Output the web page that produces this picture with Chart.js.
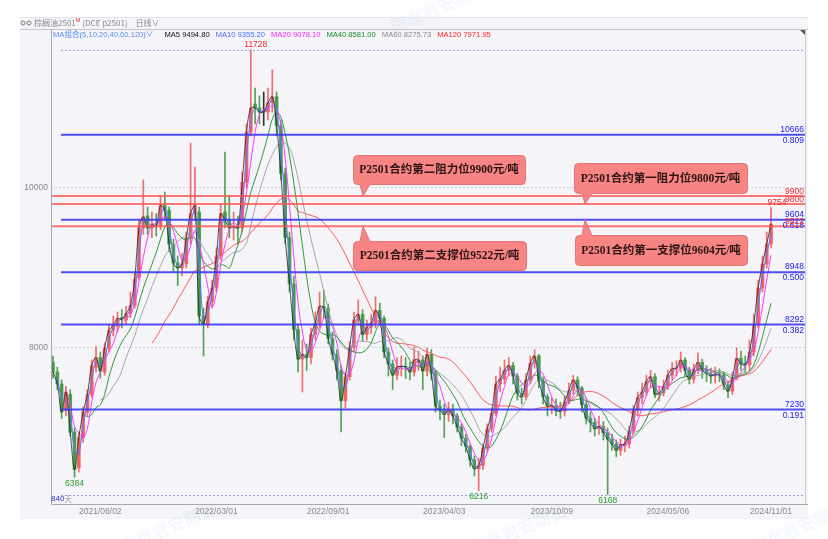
<!DOCTYPE html>
<html>
<head>
<meta charset="utf-8">
<script src="https://cdn.jsdelivr.net/npm/chart.js@4.4.1/dist/chart.umd.min.js"></script>
<style>
  html, body { margin: 0; padding: 0; background: #fff; }
  #wrap { width: 828px; height: 539px; }
</style>
</head>
<body>
<div id="wrap"><canvas id="kline" width="828" height="539"></canvas></div>
<script>
// weekly candles of p2501 (840 trading days shown)
const opens = [
  7820,7700,7550,7220,7420,6950,6500,6880,7200,7420,
  7760,7880,7700,8000,8220,8270,8380,8350,8430,8530,
  8880,9500,9650,9500,9540,9530,9780,9720,9300,9060,
  9000,9050,9380,9680,9700,8400,8300,8580,8750,9150,
  9700,9600,9500,9520,9500,10070,10700,11050,11000,10950,
  10950,11070,11140,10780,10180,9380,8800,8230,7860,7920,
  7880,8170,8310,8520,8500,8120,7920,7720,7340,7640,
  8010,8350,8420,8170,8260,8310,8470,8370,7950,7800,
  7660,7760,7770,7760,7700,7820,7850,7710,7920,7680,
  7270,7220,7170,7230,7150,7010,6870,6770,6600,6490,
  6530,6750,6990,7180,7550,7610,7720,7780,7650,7430,
  7390,7600,7810,7900,7590,7390,7270,7280,7220,7210,
  7330,7470,7600,7500,7290,7120,7070,6990,7020,6940,
  6860,6800,6720,6790,6800,6960,7220,7380,7450,7580,
  7640,7420,7440,7520,7660,7740,7750,7850,7720,7610,
  7720,7820,7720,7680,7650,7670,7660,7540,7460,7620,
  7870,7800,7790,7950,8300,8750,9050,9300
];
const highs = [
  7900,7760,7600,7520,7480,7000,6950,7260,7480,7850,
  8020,7950,8060,8300,8400,8450,8480,8520,8700,8950,
  9600,10100,9760,9700,9680,9900,9950,9760,9360,9150,
  9180,9450,10560,10260,9760,8500,8650,8850,9250,9800,
  10450,9900,9700,9650,10200,10800,11728,11250,11150,11200,
  11250,11475,11200,10850,10250,9450,8900,8300,8100,8050,
  8250,8450,8700,8720,8550,8200,7980,7780,7700,8080,
  8450,8600,8480,8350,8420,8640,8560,8400,8000,7850,
  7880,7900,7880,7820,8010,7960,7900,8000,7980,7720,
  7350,7300,7320,7300,7180,7050,6920,6800,6650,6620,
  6800,7050,7250,7650,7760,7850,7880,7820,7680,7500,
  7680,7900,7980,7920,7640,7420,7380,7360,7320,7400,
  7560,7660,7640,7520,7330,7200,7120,7150,7080,7000,
  6920,6850,6860,6900,7020,7280,7450,7560,7660,7720,
  7680,7520,7600,7720,7820,7840,7950,7880,7760,7800,
  7940,7860,7780,7750,7760,7740,7700,7580,7700,8000,
  7960,7900,8100,8420,8850,9150,9450,9754
];
const lows = [
  7620,7480,7120,7150,6900,6384,6450,6820,7150,7380,
  7700,7620,7660,7950,8150,8200,8250,8300,8380,8500,
  8850,9420,9420,9380,9400,9480,9600,9200,8950,8780,
  8900,9000,9300,9600,8300,7900,8250,8500,8700,9100,
  9500,9380,9350,9300,9450,10000,10650,10800,10800,10780,
  10850,10950,10650,10100,9300,8700,8100,7700,7450,7720,
  7800,8100,8250,8380,8050,7850,7600,6950,7250,7600,
  7950,8280,8080,8100,8180,8250,8300,7880,7650,7480,
  7600,7650,7620,7600,7650,7720,7480,7650,7600,7200,
  7100,6880,7080,7050,6950,6780,6700,6520,6400,6216,
  6480,6700,6950,7150,7450,7550,7650,7550,7350,7300,
  7350,7550,7750,7500,7300,7150,7180,7150,7120,7150,
  7300,7420,7400,7200,7050,6950,6900,6920,6850,6168,
  6720,6640,6660,6700,6750,6920,7150,7300,7400,7500,
  7380,7340,7400,7480,7600,7650,7700,7640,7550,7560,
  7680,7620,7580,7560,7560,7580,7480,7380,7420,7600,
  7720,7700,7720,7900,8250,8700,9000,9250
];
const closes = [
  7700,7550,7200,7450,6950,6480,6880,7200,7420,7780,
  7880,7710,8000,8220,8280,8370,8360,8430,8530,8860,
  9500,9640,9500,9540,9530,9780,9720,9300,9060,9000,
  9050,9380,9680,9780,8400,8300,8580,8750,9150,9680,
  9600,9500,9520,9500,10070,10700,11000,11000,10950,10950,
  11070,11140,10780,10180,9380,8800,8230,7860,7920,7880,
  8170,8310,8520,8500,8120,7920,7720,7340,7640,8010,
  8350,8420,8170,8260,8310,8470,8370,7950,7800,7660,
  7760,7770,7760,7700,7850,7850,7710,7920,7680,7270,
  7220,7170,7230,7150,7010,6870,6770,6600,6490,6530,
  6750,6990,7180,7550,7610,7720,7780,7650,7430,7390,
  7600,7810,7900,7590,7390,7270,7280,7220,7210,7330,
  7470,7600,7500,7290,7120,7070,6990,7020,6940,6860,
  6800,6720,6790,6800,6960,7220,7380,7450,7580,7640,
  7420,7440,7520,7660,7740,7750,7850,7720,7610,7720,
  7820,7720,7680,7650,7670,7660,7540,7460,7620,7870,
  7800,7790,7950,8300,8750,9050,9300,9550
];

const xTickIdx = [11, 38, 64, 91, 116, 143, 167];
const xTickLabels = ['2021/08/02', '2022/03/01', '2022/09/01', '2023/04/03', '2023/10/09', '2024/05/06', '2024/11/01'];
const yTickValues = [8000, 10000];

const maNames = ['MA5', 'MA10', 'MA20', 'MA40', 'MA60', 'MA120'];
const maPeriods = [5, 10, 20, 40, 60, 120];
const maLegendValues = ['9494.80', '9355.20', '9078.10', '8581.00', '8275.73', '7971.95'];

// fibonacci lines drawn from the 11728 high to the 6168 low
const fibLevels = [10666, 9604, 8948, 8292, 7230];
const fibRatios = ['0.809', '0.618', '0.500', '0.382', '0.191'];
// key levels with callouts
const keyLevels = [9900, 9800, 9522, 9604];
const keyNames = ['第二阻力位', '第一阻力位', '第二支撑位', '第一支撑位'];
const redLevels = [9900, 9800, 9522];

const UP = 'rgba(240,90,90,0.88)';
const DOWN = 'rgba(62,150,62,0.88)';
const maLineColors = ['rgba(30,30,30,0.75)', '#5a78ff', '#ff3cff', '#2f9a3c', '#a8a8a8', '#ff5a5a'];
const maTextColors = ['#111111', '#4a6cff', '#ff22ff', '#16902a', '#8c8c8c', '#ff2222'];

function movingAverage(src, n) {
  return src.map((v, i) => {
    if (i < n - 1) return null;
    let s = 0;
    for (let k = i - n + 1; k <= i; k++) s += src[k];
    return s / n;
  });
}

const candleColors = closes.map((c, i) => c > opens[i] ? UP : (c < opens[i] ? DOWN : '#333'));

const wickData = closes.map((c, i) => ({ x: i, y: [lows[i], highs[i]] }));
const bodyData = closes.map((c, i) => ({ x: i, y: [Math.min(opens[i], c), Math.max(opens[i], c)] }));

// one candle is one week, so the daily MA length is divided by 5
const maDatasets = maPeriods.map((p, k) => {
  const ma = movingAverage(closes, Math.max(1, p / 5));
  return {
    type: 'line',
    label: maNames[k],
    data: ma.map((v, i) => ({ x: i, y: v })),
    borderColor: maLineColors[k],
    borderWidth: 1,
    pointRadius: 0,
    tension: 0.35,
    order: 0
  };
});

function hline(ctx, x1, x2, y) {
  ctx.beginPath();
  ctx.moveTo(x1, y);
  ctx.lineTo(x2, y);
  ctx.stroke();
}

function callout(ctx, x, y, w, h, tipX, tipY, r) {
  const down = tipY > y + h;
  ctx.beginPath();
  ctx.moveTo(x + r, y);
  if (!down) { ctx.lineTo(tipX - 3, y); ctx.lineTo(tipX, tipY); ctx.lineTo(tipX + 7, y); }
  ctx.lineTo(x + w - r, y);
  ctx.arcTo(x + w, y, x + w, y + r, r);
  ctx.lineTo(x + w, y + h - r);
  ctx.arcTo(x + w, y + h, x + w - r, y + h, r);
  if (down) { ctx.lineTo(tipX + 7, y + h); ctx.lineTo(tipX, tipY); ctx.lineTo(tipX - 3, y + h); }
  ctx.lineTo(x + r, y + h);
  ctx.arcTo(x, y + h, x, y + h - r, r);
  ctx.lineTo(x, y + r);
  ctx.arcTo(x, y, x + r, y, r);
  ctx.closePath();
  ctx.fill();
  ctx.stroke();
}

// draws text pieces one after another, returns the end x
function textRun(ctx, x, y, parts) {
  parts.forEach(p => {
    ctx.font = p.font;
    ctx.fillStyle = p.color;
    ctx.fillText(p.text, x + (p.dx || 0), y + (p.dy || 0));
    x += ctx.measureText(p.text).width + (p.gap || 0);
  });
  return x;
}

const decor = {
  id: 'decor',
  beforeDraw(chart) {
    const ctx = chart.ctx;
    ctx.save();
    ctx.fillStyle = '#ffffff';
    ctx.fillRect(0, 0, chart.width, chart.height);
    ctx.fillStyle = '#f4f4f9';
    ctx.fillRect(20, 17, 788, 502);
    // faint watermarks
    ctx.fillStyle = 'rgba(120,160,215,0.08)';
    ctx.font = 'bold 17px "Noto Sans CJK SC"';
    [[440, 14], [170, 534], [520, 536], [800, 534]].forEach(p => {
      ctx.save();
      ctx.translate(p[0], p[1]);
      ctx.rotate(-0.4);
      ctx.fillText('国泰君安期货', -50, 0);
      ctx.restore();
    });
    ctx.restore();
  },
  afterDatasetsDraw(chart) {
    const ctx = chart.ctx;
    const a = chart.chartArea;
    const ys = chart.scales.y;
    const xs = chart.scales.x;
    ctx.save();

    // dotted range lines at highest high / lowest low
    const maxH = Math.max(...highs);
    const minL = Math.min(...lows);
    ctx.strokeStyle = '#9c9ce8';
    ctx.lineWidth = 1;
    ctx.setLineDash([2, 2]);
    hline(ctx, a.left + 10, a.right, Math.round(ys.getPixelForValue(maxH)) + 0.5);
    hline(ctx, a.left + 10, a.right, Math.round(ys.getPixelForValue(minL)) + 0.5);
    ctx.setLineDash([]);

    // red key levels
    ctx.strokeStyle = 'rgba(250,85,85,0.8)';
    ctx.lineWidth = 2;
    redLevels.forEach(v => hline(ctx, a.left, a.right, ys.getPixelForValue(v)));

    // blue fibonacci lines
    ctx.strokeStyle = 'rgba(55,55,240,0.88)';
    ctx.lineWidth = 2;
    fibLevels.forEach(v => hline(ctx, a.left + 10, a.right, ys.getPixelForValue(v)));

    // right side labels
    ctx.font = '8.5px "Liberation Sans", Arial';
    ctx.textAlign = 'right';
    ctx.textBaseline = 'middle';
    ctx.fillStyle = '#2020f0';
    fibLevels.forEach((v, k) => {
      const py = ys.getPixelForValue(v);
      ctx.fillText(String(v), a.right - 1, py - 5);
      ctx.fillText(fibRatios[k], a.right - 1, py + 6);
    });
    ctx.fillStyle = '#f02a2a';
    redLevels.forEach(v => ctx.fillText(String(v), a.right - 1, ys.getPixelForValue(v) - 4.5));

    // high / low marks
    ctx.textAlign = 'center';
    const last = closes.length - 1;
    const hiIdx = highs.indexOf(maxH);
    ctx.fillStyle = '#f02a2a';
    ctx.fillText(String(maxH), xs.getPixelForValue(hiIdx) + 5, ys.getPixelForValue(maxH) - 5);
    ctx.fillText(String(highs[last]), xs.getPixelForValue(last) + 6, ys.getPixelForValue(highs[last]) - 5);
    ctx.fillStyle = '#2a9a2a';
    [5, 99, 129].forEach(i => ctx.fillText(String(lows[i]), xs.getPixelForValue(i), ys.getPixelForValue(lows[i]) + 6));

    // callouts
    const boxes = [[353, 155, 172, 29, 363], [574, 163, 173, 30, 585], [353, 241, 173, 29, 363], [575, 235, 172, 30, 585]];
    ctx.strokeStyle = '#e47676';
    ctx.lineWidth = 1;
    keyLevels.forEach((v, k) => {
      const b = boxes[k];
      const tipY = ys.getPixelForValue(v);
      ctx.fillStyle = '#f98484';
      callout(ctx, b[0] + 0.5, b[1] + 0.5, b[2], b[3], b[4], tipY, 4);
      ctx.fillStyle = '#2b1515';
      ctx.font = 'bold 11.5px "Liberation Serif", "Noto Sans CJK SC"';
      ctx.textAlign = 'center';
      ctx.fillText('P2501合约' + keyNames[k] + v + '元/吨', b[0] + b[2] / 2, b[1] + b[3] / 2 + 1);
    });
    ctx.restore();
  },
  afterDraw(chart) {
    const ctx = chart.ctx;
    const a = chart.chartArea;
    ctx.save();
    // frame lines
    ctx.lineWidth = 1;
    ctx.strokeStyle = '#e2e2e8';
    hline(ctx, 20, 808, 17.5);
    ctx.strokeStyle = '#c4c4cc';
    hline(ctx, 20, 808, 29.5);
    ctx.strokeStyle = '#a8a8b0';
    ctx.beginPath();
    ctx.moveTo(a.left + 0.5, a.top);
    ctx.lineTo(a.left + 0.5, a.bottom + 0.5);
    ctx.lineTo(808, a.bottom + 0.5);
    ctx.stroke();
    ctx.strokeStyle = '#c8c8d0';
    ctx.beginPath();
    ctx.moveTo(a.right + 0.5, a.top);
    ctx.lineTo(a.right + 0.5, a.bottom);
    ctx.stroke();
    ctx.fillStyle = '#555';
    ctx.beginPath();
    ctx.moveTo(a.right - 5, a.top + 1);
    ctx.lineTo(a.right, a.top + 1);
    ctx.lineTo(a.right, a.top + 6);
    ctx.closePath();
    ctx.fill();

    // title bar
    ctx.strokeStyle = '#777';
    ctx.beginPath(); ctx.arc(23, 23, 2, 0, Math.PI * 2); ctx.stroke();
    ctx.beginPath(); ctx.arc(29, 23, 2, 0, Math.PI * 2); ctx.stroke();
    ctx.textBaseline = 'middle';
    ctx.textAlign = 'left';
    const tf = '8px "Noto Sans CJK SC"';
    textRun(ctx, 34, 23, [
      { text: '棕榈油2501', font: tf, color: '#8a8a8a' },
      { text: 'M', font: '5.5px "Liberation Sans"', color: '#e03030', dy: -3, gap: 2 },
      { text: '(DCE p2501)', font: tf, color: '#8a8a8a', gap: 8 },
      { text: '日线∨', font: tf, color: '#8a8a8a' }
    ]);

    // MA legend
    const lf = '7.6px "Liberation Sans", "Noto Sans CJK SC"';
    const parts = [{ text: 'MA组合(' + maPeriods.join(',') + ')∨', font: lf, color: '#5b8ff0', gap: 11 }];
    maNames.forEach((n, k) => parts.push({ text: n + ' ' + maLegendValues[k], font: lf, color: maTextColors[k], gap: 6 }));
    textRun(ctx, 53, 35, parts);

    // visible range
    textRun(ctx, a.left, a.bottom - 5, [
      { text: '840', font: '8px "Liberation Sans"', color: '#3030d0' },
      { text: '天', font: '8px "Noto Sans CJK SC"', color: '#999' }
    ]);
    ctx.restore();
  }
};

new Chart(document.getElementById('kline'), {
  type: 'bar',
  data: {
    datasets: [
      ...maDatasets,
      {
        label: 'wick',
        data: wickData,
        backgroundColor: candleColors,
        barThickness: 1,
        grouped: false,
        order: 2
      },
      {
        label: 'body',
        data: bodyData,
        backgroundColor: candleColors,
        barThickness: 3,
        minBarLength: 1,
        grouped: false,
        order: 1
      }
    ]
  },
  options: {
    responsive: false,
    animation: false,
    layout: { padding: { top: 29, right: 23, left: 0, bottom: 0 } },
    plugins: { legend: { display: false }, tooltip: { enabled: false } },
    scales: {
      x: {
        type: 'linear',
        min: -0.47,
        max: 174.9,
        offset: false,
        grid: { display: false, drawTicks: false },
        border: { display: false },
        afterFit: s => { s.height = 35; },
        afterBuildTicks: axis => { axis.ticks = xTickIdx.map(v => ({ value: v })); },
        ticks: {
          autoSkip: false,
          maxRotation: 0,
          padding: 3,
          color: '#8a8a8a',
          font: { family: '"Liberation Sans", Arial', size: 8.5 },
          callback: (v, i) => xTickLabels[i]
        }
      },
      y: {
        min: 6050,
        max: 11987,
        grid: { color: '#cfcfd6', drawTicks: false },
        border: { display: false, dash: [2, 2] },
        afterFit: s => { s.width = 51; },
        afterBuildTicks: axis => { axis.ticks = yTickValues.map(v => ({ value: v })); },
        ticks: {
          padding: 3,
          color: '#8a8a8a',
          font: { family: '"Liberation Sans", Arial', size: 8.5 },
          callback: v => String(v)
        }
      }
    }
  },
  plugins: [decor]
});
</script>
</body>
</html>
